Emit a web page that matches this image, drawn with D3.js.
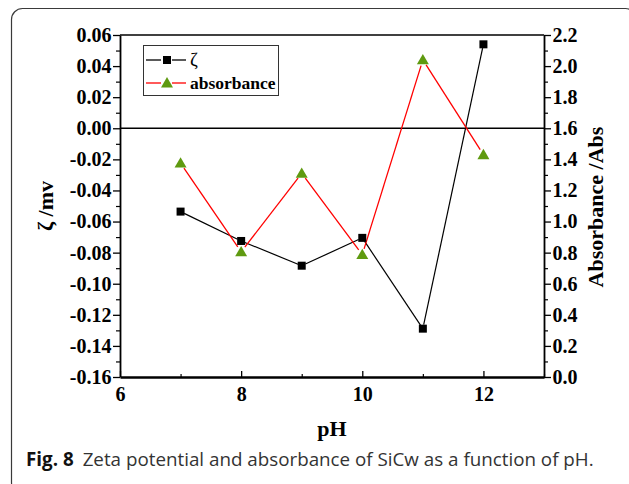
<!DOCTYPE html>
<html>
  <head>
    <meta charset="utf-8" />
    <style>
      body { margin: 0; background: #fff; }
      svg { display: block; }
      .tk text { font-family: "Liberation Serif", "Times New Roman", serif; font-weight: bold; font-size: 20px; fill: #000; }
    </style>
  </head>
  <body>
    <script src="https://d3js.org/d3.v7.min.js"></script>
    <script>
      // DATA
      const pH = [7, 8, 9, 10, 11, 12];
      const zeta = [-0.0536, -0.0725, -0.0884, -0.0705, -0.1289, 0.054];
      const absorbance = [1.376, 0.805, 1.31, 0.787, 2.04, 1.43];
      const xTicks = [6, 8, 10, 12];
      const xMinor = [7, 9, 11, 13];
      const zetaTicks = [0.06, 0.04, 0.02, 0, -0.02, -0.04, -0.06, -0.08, -0.1, -0.12, -0.14, -0.16];
      const absTicks = [0, 0.2, 0.4, 0.6, 0.8, 1.0, 1.2, 1.4, 1.6, 1.8, 2.0, 2.2];
      const legendLabels = ["ζ", "absorbance"];

      const W = 629, H = 484;
      const pLeft = 120, pRight = 544, pTop = 35, pBottom = 377;

      const svg = d3.select("body").append("svg").attr("width", W).attr("height", H);

      // outer figure frame
      svg.append("rect")
        .attr("x", 11.5).attr("y", 8.5)
        .attr("width", 625).attr("height", 485)
        .attr("rx", 11)
        .attr("fill", "none").attr("stroke", "#3a3a3a").attr("stroke-width", 1.2);

      const x = d3.scaleLinear().domain([6, 13]).range([pLeft, pRight]);
      const yL = d3.scaleLinear().domain([-0.16, 0.06]).range([pBottom, pTop]);
      const yR = d3.scaleLinear().domain([0, 2.2]).range([pBottom, pTop]);

      const fmt = (f) => (d) => d3.format(f)(d).replace("−", "-");

      // top border
      svg.append("line")
        .attr("x1", pLeft).attr("x2", pRight).attr("y1", pTop).attr("y2", pTop)
        .attr("stroke", "#000").attr("stroke-width", 1.3);

      // minor ticks
      const minorZeta = d3.range(-0.15, 0.06, 0.02);
      const minorAbs = d3.range(0.1, 2.2, 0.2);
      svg.append("g").attr("transform", `translate(${pLeft},0)`)
        .call(d3.axisLeft(yL).tickValues(minorZeta).tickSize(4).tickFormat(""))
        .call((g) => g.select(".domain").remove())
        .selectAll("line").attr("stroke-width", 1.2);
      svg.append("g").attr("transform", `translate(${pRight},0)`)
        .call(d3.axisRight(yR).tickValues(minorAbs).tickSize(4).tickFormat(""))
        .call((g) => g.select(".domain").remove())
        .selectAll("line").attr("stroke-width", 1.2);
      svg.append("g").attr("transform", `translate(0,${pBottom})`)
        .call(d3.axisBottom(x).tickValues(xMinor).tickSize(-3).tickFormat(""))
        .call((g) => g.select(".domain").remove())
        .selectAll("line").attr("stroke-width", 1.2);

      // major axes
      const gL = svg.append("g").attr("class", "tk").attr("transform", `translate(${pLeft},0)`)
        .call(d3.axisLeft(yL).tickValues(zetaTicks).tickSize(7).tickSizeOuter(0).tickPadding(1.5).tickFormat(fmt(".2f")));
      gL.select(".domain").attr("stroke-width", 1.8);
      gL.selectAll(".tick line").attr("stroke-width", 1.3);

      const gR = svg.append("g").attr("class", "tk").attr("transform", `translate(${pRight},0)`)
        .call(d3.axisRight(yR).tickValues(absTicks).tickSize(7).tickSizeOuter(0).tickPadding(1.5).tickFormat(fmt(".1f")));
      gR.select(".domain").attr("stroke-width", 1.8);
      gR.selectAll(".tick line").attr("stroke-width", 1.3);

      const gB = svg.append("g").attr("class", "tk").attr("transform", `translate(0,${pBottom})`)
        .call(d3.axisBottom(x).tickValues(xTicks).tickSizeInner(-6).tickSizeOuter(0).tickPadding(10).tickFormat(d3.format("d")));
      gB.select(".domain").attr("stroke-width", 2.4);
      gB.selectAll(".tick line").attr("stroke-width", 1.3);

      svg.selectAll(".tk .domain, .tk line").attr("stroke", "#000");

      // zero line
      svg.append("line")
        .attr("x1", pLeft).attr("x2", pRight).attr("y1", yL(0)).attr("y2", yL(0))
        .attr("stroke", "#000").attr("stroke-width", 1.5);

      // axis titles
      const serif = "'Liberation Serif', 'Times New Roman', serif";
      svg.append("text")
        .attr("transform", "translate(53,206) rotate(-90)")
        .attr("text-anchor", "middle")
        .style("font-family", serif).style("font-weight", "bold").style("font-size", "22px")
        .text("ζ /mv");
      svg.append("text")
        .attr("transform", "translate(603,207) rotate(-90)")
        .attr("text-anchor", "middle")
        .style("font-family", serif).style("font-weight", "bold").style("font-size", "22px")
        .text("Absorbance /Abs");
      svg.append("text")
        .attr("x", 332).attr("y", 436)
        .attr("text-anchor", "middle")
        .style("font-family", serif).style("font-weight", "bold").style("font-size", "22px")
        .text("pH");

      // series segments, with a small gap at each marker
      function segments(xs, ys, yScale, gap) {
        const pts = xs.map((v, i) => [x(v), yScale(ys[i])]);
        return d3.pairs(pts).map(([a, b]) => {
          const dx = b[0] - a[0], dy = b[1] - a[1];
          const len = Math.hypot(dx, dy);
          const ux = dx / len, uy = dy / len;
          return [a[0] + ux * gap, a[1] + uy * gap, b[0] - ux * gap, b[1] - uy * gap];
        });
      }

      const green = "#5f9a10";
      const tri = d3.symbol().type(d3.symbolTriangle).size(62);

      svg.append("g").selectAll("line")
        .data(segments(pH, zeta, yL, 4))
        .join("line")
        .attr("x1", (d) => d[0]).attr("y1", (d) => d[1])
        .attr("x2", (d) => d[2]).attr("y2", (d) => d[3])
        .attr("stroke", "#000").attr("stroke-width", 1.2);

      svg.append("g").selectAll("line")
        .data(segments(pH, absorbance, yR, 6))
        .join("line")
        .attr("x1", (d) => d[0]).attr("y1", (d) => d[1])
        .attr("x2", (d) => d[2]).attr("y2", (d) => d[3])
        .attr("stroke", "#ff0000").attr("stroke-width", 1.3);

      svg.append("g").selectAll("rect")
        .data(pH)
        .join("rect")
        .attr("x", (d) => x(d) - 4).attr("y", (d, i) => yL(zeta[i]) - 4)
        .attr("width", 8).attr("height", 8)
        .attr("fill", "#000");

      svg.append("g").selectAll("path")
        .data(pH)
        .join("path")
        .attr("d", tri)
        .attr("transform", (d, i) => `translate(${x(d)},${yR(absorbance[i]) + 1})`)
        .attr("fill", green);

      // legend
      const lg = svg.append("g");
      lg.append("rect")
        .attr("x", 143.5).attr("y", 45.5).attr("width", 135).attr("height", 50)
        .attr("fill", "#fff").attr("stroke", "#333").attr("stroke-width", 1);
      const rows = [{ y: 60, color: "#000", mark: "sq" }, { y: 83, color: "#ff0000", mark: "tri" }];
      rows.forEach((r, i) => {
        lg.append("line").attr("x1", 146).attr("x2", 161).attr("y1", r.y).attr("y2", r.y)
          .attr("stroke", r.color).attr("stroke-width", 1.3);
        lg.append("line").attr("x1", 172).attr("x2", 186).attr("y1", r.y).attr("y2", r.y)
          .attr("stroke", r.color).attr("stroke-width", 1.3);
        if (r.mark === "sq") {
          lg.append("rect").attr("x", 163).attr("y", r.y - 4).attr("width", 8).attr("height", 8).attr("fill", "#000");
        } else {
          lg.append("path").attr("d", tri).attr("transform", `translate(167,${r.y + 1})`).attr("fill", green);
        }
        lg.append("text")
          .attr("x", 190).attr("y", r.y + 6)
          .style("font-family", serif)
          .style("font-weight", i === 0 ? "normal" : "bold")
          .style("font-size", i === 0 ? "19px" : "17.5px")
          .text(legendLabels[i]);
      });

      // caption
      const cap = svg.append("text")
        .attr("x", 26).attr("y", 466)
        .style("font-family", "'Open Sans', 'Noto Sans', sans-serif")
        .style("font-size", "16px")
        .attr("fill", "#333");
      cap.append("tspan").style("font-weight", "bold").attr("fill", "#111").text("Fig. 8");
      cap.append("tspan").attr("dx", 9).text("Zeta potential and absorbance of SiCw as a function of pH.");
      // fit the caption width to the figure
      const target = 585 - 26;
      const w = cap.node().getComputedTextLength();
      cap.style("font-size", (16 * target / w).toFixed(2) + "px");
    </script>
  </body>
</html>
